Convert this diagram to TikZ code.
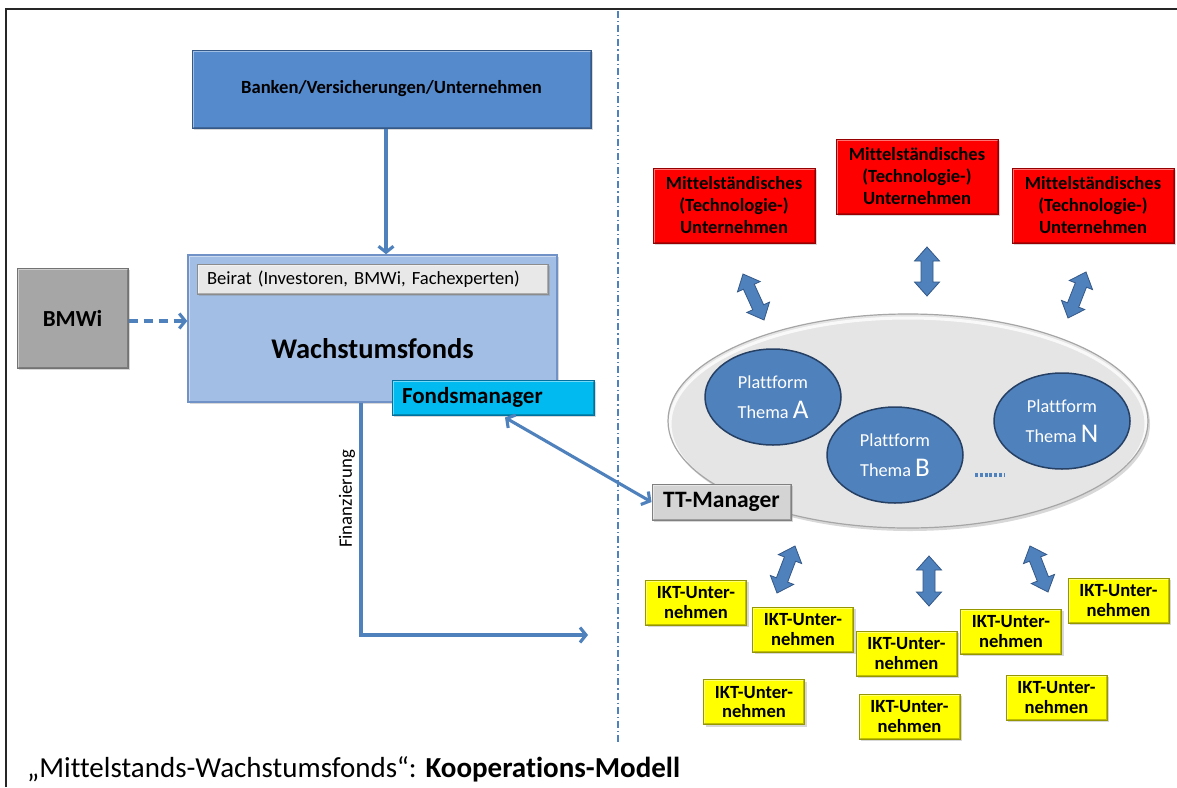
\documentclass[tikz,border=0pt]{standalone}
\usepackage{fontspec}
\setmainfont{Carlito}[Ligatures={NoCommon}]
\usetikzlibrary{arrows.meta,calc,shadows,shapes.geometric}

\definecolor{lineblue}{RGB}{79,129,189}
\definecolor{darkblue}{RGB}{52,88,135}
\definecolor{bankfill}{RGB}{85,138,205}
\definecolor{fundfill}{RGB}{163,190,228}
\definecolor{fundline}{RGB}{112,146,198}
\definecolor{boardfill}{RGB}{232,232,232}
\definecolor{managerfill}{RGB}{0,186,240}
\definecolor{managerline}{RGB}{0,112,160}
\definecolor{ministryfill}{RGB}{166,166,166}
\definecolor{ttfill}{RGB}{212,212,212}
\definecolor{companyred}{RGB}{255,0,0}
\definecolor{companyredline}{RGB}{150,0,0}
\definecolor{ictyellow}{RGB}{255,255,0}
\definecolor{ictyellowline}{RGB}{150,150,0}
\definecolor{platfill}{RGB}{79,129,189}
\definecolor{platline}{RGB}{38,64,100}
\definecolor{hubfill}{RGB}{229,229,229}

% two-headed block arrow between two coordinates
\newcommand\fatdarrow[2]{%
  \coordinate (fa1) at ($(#1)!14pt!(#2)$);
  \coordinate (fa2) at ($(#2)!14pt!(#1)$);
  \filldraw[blockarrow] (#1) -- ($(fa1)!12.5pt!90:(#2)$) -- ($(fa1)!6pt!90:(#2)$)
    -- ($(fa2)!6pt!-90:(#1)$) -- ($(fa2)!12.5pt!-90:(#1)$) -- (#2)
    -- ($(fa2)!12.5pt!90:(#1)$) -- ($(fa2)!6pt!90:(#1)$)
    -- ($(fa1)!6pt!-90:(#2)$) -- ($(fa1)!12.5pt!-90:(#2)$) -- cycle;}

\tikzset{
  bevel/.style={path picture={
      \draw[white,opacity=0.45,line width=3pt]
        (path picture bounding box.south west) -- (path picture bounding box.north west)
        -- (path picture bounding box.north east);
      \draw[black,opacity=0.25,line width=3pt]
        (path picture bounding box.north east) -- (path picture bounding box.south east)
        -- (path picture bounding box.south west);}},
  boxbase/.style={draw, line width=1pt, inner sep=0pt, bevel,
      drop shadow={shadow xshift=2pt,shadow yshift=-2pt,opacity=0.3}},
  txt/.style={font=\fontsize{18.6}{22}\selectfont},
  btxt/.style={font=\fontsize{18.6}{22}\selectfont\bfseries},
  bankbox/.style={boxbase, fill=bankfill, draw=darkblue, btxt,
      minimum width=399pt, minimum height=78pt},
  fundbox/.style={boxbase, fill=fundfill, draw=fundline, line width=1.5pt,
      minimum width=369pt, minimum height=147pt},
  boardbox/.style={boxbase, fill=boardfill, draw=black!45, txt,
      minimum height=30pt, text width=331pt, inner xsep=10pt, align=left},
  managerbox/.style={boxbase, fill=managerfill, draw=managerline,
      font=\fontsize{23}{26}\selectfont\bfseries,
      minimum height=35pt, text width=182pt, inner xsep=10pt, align=left},
  ministrybox/.style={boxbase, fill=ministryfill, draw=black!55,
      font=\fontsize{23}{26}\selectfont\bfseries,
      minimum width=111pt, minimum height=100pt},
  ttbox/.style={boxbase, fill=ttfill, draw=black!50,
      font=\fontsize{23.5}{26}\selectfont\bfseries,
      minimum width=139pt, minimum height=36pt},
  redbox/.style={boxbase, fill=companyred, draw=companyredline, btxt,
      align=center, minimum width=162pt, minimum height=75pt},
  ictbox/.style={boxbase, fill=ictyellow, draw=ictyellowline,
      font=\fontsize{18.6}{19.5}\selectfont\bfseries,
      align=center, minimum width=101pt, minimum height=45pt},
  hub/.style={ellipse, draw=black!35, line width=1.2pt, fill=hubfill, inner sep=0pt,
      minimum width=480pt, minimum height=214pt,
      drop shadow={shadow xshift=2pt,shadow yshift=-3pt,opacity=0.3},
      path picture={\draw[white,line width=3pt,opacity=0.8]
        ([yshift=-3pt]path picture bounding box.center) ellipse [x radius=238, y radius=106];}},
  platform/.style={ellipse, draw=platline, line width=1.5pt, fill=platfill, inner sep=0pt,
      minimum width=136pt, minimum height=96pt, text=white, align=center,
      font=\fontsize{18.3}{30}\selectfont},
  flow/.style={draw=lineblue, line width=3.1pt,
      -{Straight Barb[length=6pt,width=15pt]}},
  bothflow/.style={draw=lineblue, line width=3.1pt,
      {Straight Barb[length=6pt,width=15pt]}-{Straight Barb[length=6pt,width=15pt]}},
  blockarrow/.style={fill=lineblue, draw=darkblue, line width=0.8pt, line join=miter},
  divider/.style={draw=lineblue, line width=1.3pt, dash pattern=on 7pt off 3pt on 1.2pt off 3pt},
}

\begin{document}
\begin{tikzpicture}[x=1pt,y=-1pt]
\useasboundingbox (0,0) rectangle (1177,787);
\fill[white] (0,0) rectangle (1177,787);

% frame on the top and left edges
\draw[line width=2.4pt, black!85] (6,787) -- (6,9) -- (1177,9);

% vertical separator
\coordinate (divtop) at (618,11);
\coordinate (divbot) at (618,745);
\draw[divider] (divtop) -- (divbot);

% ---- left half: fund structure
\node[bankbox] (bank) at (391.5,89) {Banken/Versicherungen/Unternehmen};
\node[fundbox] (fund) at (372.5,328.5) {};
\node[boardbox] (board) at (372.5,279) {Beirat (Investoren, BMWi, Fachexperten)};
\node[font=\fontsize{28.5}{32}\selectfont\bfseries] (fundtext) at (372.5,349) {Wachstumsfonds};
\node[managerbox] (manager) at (493,397.5) {Fondsmanager};
\node[ministrybox] (bmwi) at (72.5,318) {BMWi};

\coordinate (bankx) at (386,0);
\draw[flow] (bank.south -| bankx) -- (fund.north -| bankx);

\coordinate (bmwiy) at (0,321);
\draw[flow, dash pattern=on 9pt off 6pt] (bmwi.east |- bmwiy) -- (fund.west |- bmwiy);

\coordinate (finx) at (361,0);
\coordinate (finend) at (588,635);
\draw[flow] (fund.south -| finx) |- (finend);
\node[font=\fontsize{18.8}{22}\selectfont, rotate=90] (finlabel) at (347,499) {Finanzierung};

% ---- right half: platforms and companies
\node[hub] (hub) at (908,421) {};
\node[platform] (pa) at (773,397) {Plattform\\Thema {\fontsize{27}{30}\selectfont A}};
\node[platform] (pb) at (895,455) {Plattform\\Thema {\fontsize{27}{30}\selectfont B}};
\node[platform] (pn) at (1062,421) {Plattform\\Thema {\fontsize{27}{30}\selectfont N}};
\coordinate (dotsl) at (975,475);
\coordinate (dotsr) at (1004,475);
\draw[lineblue, line width=3.5pt, dash pattern=on 3pt off 1.8pt] (dotsl) -- (dotsr);

\node[ttbox] (tt) at (721.5,502) {TT-Manager};
\draw[bothflow] ($(manager.south)+(12,2)$) -- (tt.west);

\node[redbox] (r1) at (734,205.5) {Mittelständisches\\(Technologie-)\\Unternehmen};
\node[redbox] (r2) at (917,176.5) {Mittelständisches\\(Technologie-)\\Unternehmen};
\node[redbox] (r3) at (1093,205.5) {Mittelständisches\\(Technologie-)\\Unternehmen};

\node[ictbox] (y1) at (696,602.5) {IKT-Unter-\\nehmen};
\node[ictbox] (y2) at (803,629.5) {IKT-Unter-\\nehmen};
\node[ictbox] (y3) at (906.5,653.5) {IKT-Unter-\\nehmen};
\node[ictbox] (y4) at (1011,631.5) {IKT-Unter-\\nehmen};
\node[ictbox] (y5) at (1118.5,600.5) {IKT-Unter-\\nehmen};
\node[ictbox] (y6) at (754,702) {IKT-Unter-\\nehmen};
\node[ictbox] (y7) at (909.5,716.5) {IKT-Unter-\\nehmen};
\node[ictbox] (y8) at (1056.5,697.5) {IKT-Unter-\\nehmen};

% block arrows between companies and the platform hub
\coordinate (t1a) at (743,274);  \coordinate (t1b) at (764,320);
\coordinate (t2a) at (927,247);  \coordinate (t2b) at (927,296);
\coordinate (t3a) at (1086,272); \coordinate (t3b) at (1068,318);
\coordinate (b1a) at (795,546);  \coordinate (b1b) at (777,593);
\coordinate (b2a) at (929,556);  \coordinate (b2b) at (929,606);
\coordinate (b3a) at (1030,546); \coordinate (b3b) at (1048,592);
\fatdarrow{t1a}{t1b}
\fatdarrow{t2a}{t2b}
\fatdarrow{t3a}{t3b}
\fatdarrow{b1a}{b1b}
\fatdarrow{b2a}{b2b}
\fatdarrow{b3a}{b3b}

% caption
\node[anchor=base west, inner sep=0pt, font=\fontsize{29}{32}\selectfont] (caption) at (27,777)
  {„Mittelstands-Wachstumsfonds“: \textbf{Kooperations-Modell}};
\end{tikzpicture}
\end{document}
